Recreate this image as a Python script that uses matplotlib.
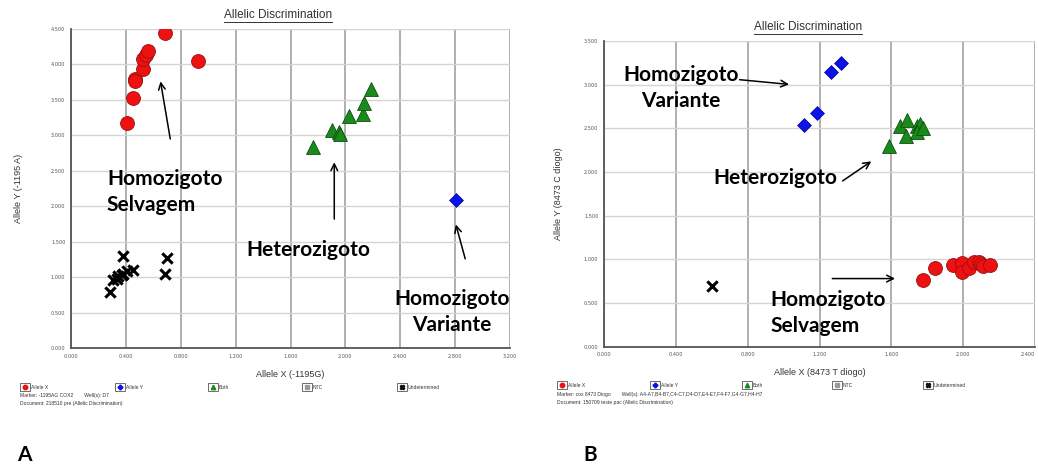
"""
Allelic discrimination plots (panel A: -1195 COX2, panel B: 8473 cox).
"""
import matplotlib
matplotlib.use("Agg")
import numpy as np
import matplotlib.pyplot as plt
from matplotlib.lines import Line2D
from matplotlib.patches import Rectangle
from matplotlib.ticker import MultipleLocator, FormatStrFormatter

# ---- panel A data (-1195 A/G) ----
a_red_x = [0.405, 0.45, 0.466, 0.47, 0.527, 0.527, 0.544, 0.563, 0.685, 0.926]
a_red_y = [3.18, 3.53, 3.79, 3.76, 3.93, 4.07, 4.13, 4.19, 4.45, 4.05]
a_green_x = [1.766, 1.905, 1.95, 1.96, 2.03, 2.126, 2.136, 2.19]
a_green_y = [2.83, 3.08, 3.04, 3.02, 3.27, 3.30, 3.46, 3.65]
a_blue_x = [2.81]
a_blue_y = [2.09]
a_und_x = [0.377, 0.702, 0.685, 0.454, 0.406, 0.370, 0.333, 0.308, 0.284, 0.345, 0.381]
a_und_y = [1.30, 1.27, 1.05, 1.10, 1.08, 1.03, 0.98, 0.96, 0.79, 1.01, 1.05]

# ---- panel B data (8473 T/C) ----
b_red_x = [1.775, 1.842, 1.942, 1.994, 1.994, 2.03, 2.058, 2.09, 2.10, 2.11, 2.15]
b_red_y = [0.76, 0.90, 0.94, 0.955, 0.85, 0.90, 0.97, 0.97, 0.95, 0.92, 0.94]
b_green_x = [1.589, 1.65, 1.687, 1.683, 1.743, 1.761, 1.743, 1.776]
b_green_y = [2.30, 2.53, 2.59, 2.41, 2.53, 2.55, 2.46, 2.50]
b_blue_x = [1.115, 1.185, 1.264, 1.319]
b_blue_y = [2.54, 2.67, 3.14, 3.25]
b_und_x = [0.60]
b_und_y = [0.695]

legend_labels = ["Allele X", "Allele Y", "Both", "NTC", "Undetermined"]

W, H = 1038, 465
BIG = dict(family="Lato", fontweight="bold", fontsize=15, color="black")
SMALL = dict(family="Liberation Sans", color="#333333")


def fx(px):
    return px / W


def fy(py):
    return 1 - py / H


def draw_points(ax, red, blue, green, und):
    ax.scatter(*und, marker="x", s=55, c="black", linewidths=2.2, zorder=3)
    ax.scatter(*green, marker="^", s=100, c="#1a8a1a", edgecolors="#0d4d0d",
               linewidths=0.6, zorder=3)
    ax.scatter(*blue, marker="D", s=50, c="#0a14e6", edgecolors="#0000a0",
               linewidths=0.5, zorder=3)
    ax.scatter(*red, marker="o", s=100, c="#ee1111", edgecolors="#991010",
               linewidths=0.6, zorder=4)


def style_axes(ax, xmax, ymax):
    ax.set_xlim(0, xmax)
    ax.set_ylim(0, ymax)
    ax.set_xticks(np.arange(0, xmax + 0.01, 0.4))
    ax.yaxis.set_major_locator(MultipleLocator(0.5))
    ax.xaxis.set_major_formatter(FormatStrFormatter("%.3f"))
    ax.yaxis.set_major_formatter(FormatStrFormatter("%.3f"))
    ax.tick_params(labelsize=3.6, labelcolor="#555555", length=0, pad=4)
    ax.grid(axis="x", color="#9a9a9a", linewidth=1.1)
    ax.grid(axis="y", color="#d4d4d4", linewidth=1.0)
    ax.set_axisbelow(True)
    for s in ("top", "right"):
        ax.spines[s].set_visible(False)
    for s in ("left", "bottom"):
        ax.spines[s].set_color("#555555")
        ax.spines[s].set_linewidth(1.3)


def arrow(ax, tail, head):
    ax.annotate("", xy=head, xytext=tail,
                arrowprops=dict(arrowstyle="->", color="black", lw=1.1,
                                mutation_scale=12))


def legend_row(fig, xs, py, marker_text, doc_text):
    specs = [
        dict(marker="o", color="#ee1111", ms=3.2),
        dict(marker="P", color="#0a14e6", ms=3.2),
        dict(marker="^", color="#1a8a1a", ms=3.2),
        dict(marker="s", color="#999999", ms=2.4),
        dict(marker="X", color="#111111", ms=3.2),
    ]
    for x, lab, sp in zip(xs, legend_labels, specs):
        fig.add_artist(Rectangle((fx(x - 5), fy(py + 4)), 10 / W, 8 / H,
                                 transform=fig.transFigure, fill=False,
                                 ec="#555555", lw=0.6))
        fig.add_artist(Line2D([fx(x)], [fy(py)], marker=sp["marker"],
                              color=sp["color"], ms=sp["ms"], ls="None",
                              transform=fig.transFigure))
        fig.text(fx(x + 6), fy(py), lab, fontsize=3.6, va="center", **SMALL)
    fig.text(fx(xs[0] - 5), fy(py + 9), marker_text, fontsize=3.6,
             va="center", **SMALL)
    fig.text(fx(xs[0] - 5), fy(py + 17), doc_text, fontsize=3.6,
             va="center", **SMALL)


fig = plt.figure(figsize=(W / 100, H / 100), dpi=100)
fig.patch.set_facecolor("white")

# ---------------- panel A ----------------
axA = fig.add_axes([fx(71), fy(348), fx(510) - fx(71), fy(29) - fy(348)])
style_axes(axA, 3.2, 4.5)
draw_points(axA, (a_red_x, a_red_y), (a_blue_x, a_blue_y),
            (a_green_x, a_green_y), (a_und_x, a_und_y))
axA.set_xlabel("Allele X (-1195G)", fontsize=6.5, labelpad=8, **SMALL)
axA.set_ylabel("Allele Y (-1195 A)", fontsize=6.5, labelpad=20, **SMALL)

axA.text(0.262, 2.20, "Homozigoto\nSelvagem", ha="left", va="center",
         linespacing=1.4, clip_on=False, **BIG)
arrow(axA, (0.727, 2.91), (0.649, 3.80))
axA.text(1.727, 1.38, "Heterozigoto", ha="center", va="center", **BIG)
arrow(axA, (1.919, 1.78), (1.919, 2.66))
axA.text(2.777, 0.51, "Homozigoto\nVariante", ha="center", va="center",
         linespacing=1.4, clip_on=False, **BIG)
arrow(axA, (2.879, 1.22), (2.80, 1.78))

# ---------------- panel B ----------------
axB = fig.add_axes([fx(604), fy(346.7), fx(1035) - fx(604), fy(41) - fy(346.7)])
style_axes(axB, 2.4, 3.5)
draw_points(axB, (b_red_x, b_red_y), (b_blue_x, b_blue_y),
            (b_green_x, b_green_y), (b_und_x, b_und_y))
axB.set_xlabel("Allele X (8473 T diogo)", fontsize=6.5, labelpad=8, **SMALL)
axB.set_ylabel("Allele Y (8473 C diogo)", fontsize=6.5, labelpad=15, **SMALL)

axB.text(0.429, 2.96, "Homozigoto\nVariante", ha="center", va="center",
         linespacing=1.4, **BIG)
arrow(axB, (0.74, 3.06), (1.046, 3.00))
axB.text(0.956, 1.93, "Heterozigoto", ha="center", va="center", **BIG)
arrow(axB, (1.316, 1.88), (1.501, 2.14))
axB.text(0.925, 0.386, "Homozigoto\nSelvagem", ha="left", va="center",
         linespacing=1.4, **BIG)
arrow(axB, (1.256, 0.78), (1.636, 0.78))

# ---------------- titles (underlined) ----------------
titles = [
    fig.text(fx(278), fy(15), "Allelic Discrimination", ha="center",
             va="center", fontsize=8.5, **SMALL),
    fig.text(fx(808), fy(27), "Allelic Discrimination", ha="center",
             va="center", fontsize=8.5, **SMALL),
]
fig.canvas.draw()
# last x tick of panel B sits at the image edge; anchor it from the right
for lab in axB.get_xticklabels():
    if lab.get_text() == "2.400":
        lab.set_ha("right")
for t in titles:
    bb = t.get_window_extent()
    yline = bb.y0 - 1
    fig.add_artist(Line2D([bb.x0 / W, bb.x1 / W], [yline / H, yline / H],
                          color="#333333", lw=0.7, transform=fig.transFigure))

# ---------------- legends and panel letters ----------------
legend_row(fig, [25, 120, 213, 307, 402], 387,
           "Marker: -1195AG COX2        Well(s): D7",
           "Document: 218510 pre (Allelic Discrimination)")
legend_row(fig, [562, 655, 747, 837, 928], 385,
           "Marker: cox 8473 Diogo        Well(s): A4-A7,B4-B7,C4-C7,D4-D7,"
           "E4-E7,F4-F7,G4-G7,H4-H7",
           "Document: 150709 teste pac (Allelic Discrimination)")

fig.text(fx(17), fy(455), "A", ha="left", va="center", family="Lato",
         fontweight="bold", fontsize=15)
fig.text(fx(583), fy(455), "B", ha="left", va="center", family="Lato",
         fontweight="bold", fontsize=15)

fig.savefig("out.png", dpi=100)
